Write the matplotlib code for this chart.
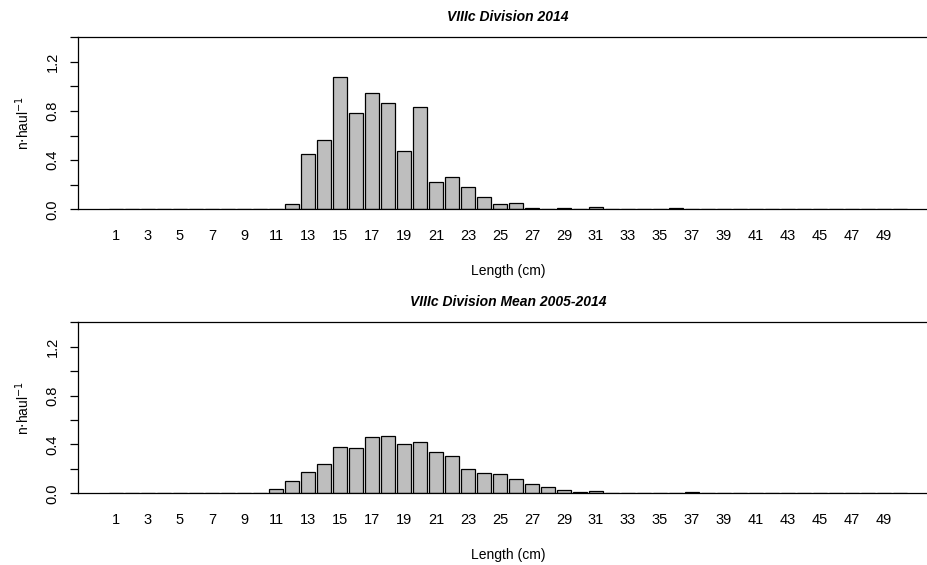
import numpy as np
import matplotlib
matplotlib.use("Agg")
import matplotlib.pyplot as plt
from matplotlib.transforms import blended_transform_factory

plt.rcParams['font.family'] = ['Liberation Sans', 'DejaVu Sans']

# length classes (cm) and abundance per haul
lengths = list(range(1, 51))

n_2014 = [0, 0, 0, 0, 0, 0, 0, 0, 0, 0,
          0, 0.046, 0.453, 0.561, 1.076, 0.786, 0.949, 0.867, 0.472, 0.835,
          0.222, 0.263, 0.184, 0.103, 0.043, 0.054, 0.013, 0, 0.012, 0,
          0.022, 0, 0, 0, 0, 0.012, 0, 0, 0, 0,
          0, 0, 0, 0, 0, 0, 0, 0, 0, 0]

n_mean = [0, 0, 0, 0, 0, 0, 0, 0, 0, 0,
          0.033, 0.100, 0.177, 0.237, 0.376, 0.370, 0.460, 0.468, 0.403, 0.422,
          0.335, 0.305, 0.201, 0.165, 0.157, 0.121, 0.076, 0.049, 0.025, 0.010,
          0.018, 0.006, 0.005, 0.005, 0, 0, 0.007, 0, 0, 0,
          0, 0, 0, 0, 0, 0, 0, 0, 0, 0]

titles = ['VIIIc Division 2014', 'VIIIc Division Mean 2005-2014']
xtick_labels = [str(l) for l in lengths[::2]]
yticks = [0, 0.2, 0.4, 0.6, 0.8, 1.0, 1.2, 1.4]
ytick_labels = ['0.0', '', '0.4', '', '0.8', '', '1.2', '']

W, H = 928, 565
fig = plt.figure(figsize=(W / 100, H / 100), dpi=100)

# panel boxes in pixels: left, top(1.4), bottom(0)
x0, x1 = 77.7, 938.6
panels = [(37.3, 209.3), (322.3, 493.3)]

for (top, bot), vals, title in zip(panels, [n_2014, n_mean], titles):
    ax = fig.add_axes([x0 / W, 1 - bot / H, (x1 - x0) / W, (bot - top) / H])
    ax.bar(lengths, vals, width=0.833, color='#BEBEBE', edgecolor='black',
           linewidth=0.9)
    ax.set_xlim(1 - (116 - x0) / 16, 1 + (x1 - 116) / 16)
    ax.set_ylim(0, 1.4)
    ax.set_xticks(lengths[::2])
    ax.set_xticklabels(xtick_labels)
    ax.set_yticks(yticks)
    ax.set_yticklabels(ytick_labels, rotation=90, va='center')
    ax.tick_params(axis='x', length=0, pad=14.5, labelsize=10.5)
    ax.tick_params(axis='y', length=5.5, width=0.9, pad=7.5, labelsize=10.5)
    for s in ax.spines.values():
        s.set_linewidth(0.9)
    ax.set_title(title, fontsize=10, fontweight='bold', style='italic', pad=12)
    ax.set_xlabel('Length (cm)', fontsize=10, labelpad=15)
    tr = blended_transform_factory(fig.transFigure, ax.transAxes)
    ax.text(23 / W, 0.5, r'n$\cdot$haul$^{-1}$', transform=tr, rotation=90,
            ha='center', va='center', fontsize=10)

fig.savefig('out.png', dpi=100)
